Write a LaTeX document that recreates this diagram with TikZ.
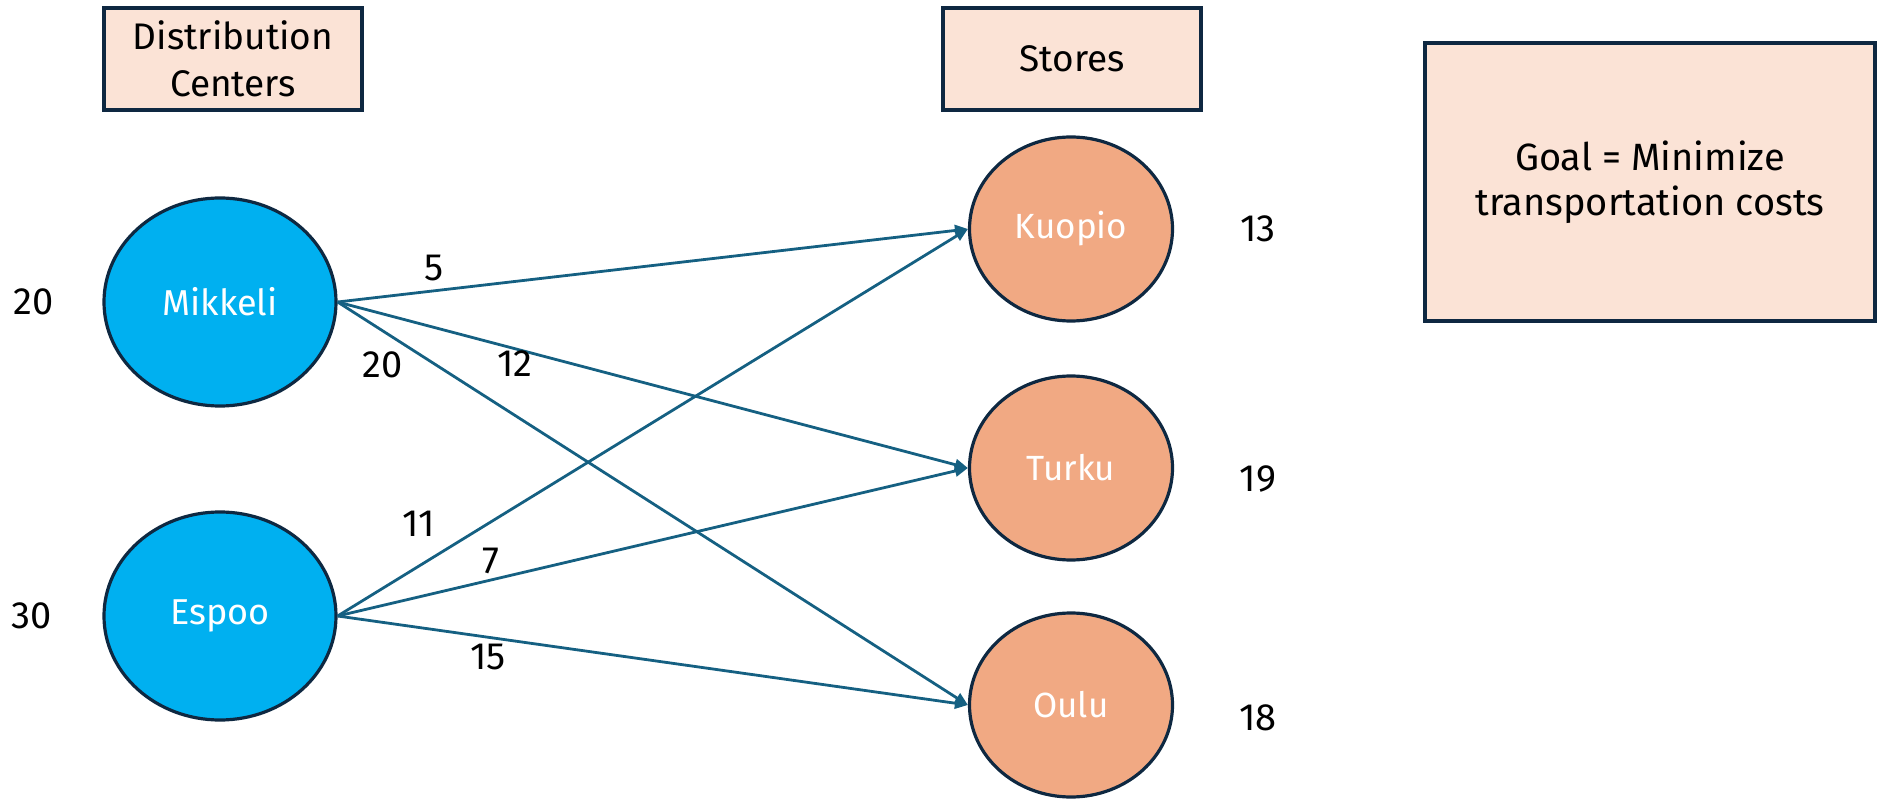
\documentclass[tikz,border=0pt]{standalone}
\usepackage{fontspec}
\setmainfont{Fira Sans}
\usetikzlibrary{shapes.geometric,arrows.meta}
\definecolor{dcblue}{HTML}{00B0F0}
\definecolor{storeor}{HTML}{F1A983}
\definecolor{boxfill}{HTML}{FBE3D6}
\definecolor{outl}{HTML}{0E2841}
\definecolor{arrowc}{HTML}{156082}
\begin{document}
\begin{tikzpicture}[x=1pt,y=-1pt,
  dcnode/.style={ellipse, draw=outl, line width=3.2pt, fill=dcblue, minimum width=232pt, minimum height=208pt, inner sep=0pt, text=white, font=\fontsize{36}{40}\selectfont},
  stnode/.style={ellipse, draw=outl, line width=3.2pt, fill=storeor, minimum width=203pt, minimum height=184pt, inner sep=0pt, text=white, font=\fontsize{35}{40}\selectfont},
  hdrbox/.style={rectangle, draw=outl, line width=3.2pt, fill=boxfill, minimum width=258pt, minimum height=102pt, inner sep=0pt, align=center, font=\fontsize{37}{47}\selectfont},
  goalbox/.style={rectangle, draw=outl, line width=3.2pt, fill=boxfill, minimum width=450pt, minimum height=278pt, inner sep=0pt, align=center, font=\fontsize{38}{45}\selectfont},
  num/.style={inner sep=0pt, font=\fontsize{38}{40}\selectfont},
  flow/.style={draw=arrowc, line width=2.8pt, -{Triangle[length=13pt,width=11pt]}}
]
\useasboundingbox (0,0) rectangle (1879,799);

\node[hdrbox] (dchdr) at (233,59) {Distribution\\Centers};
\node[hdrbox] (sthdr) at (1072,59) {Stores};
\node[goalbox] (goal) at (1650,182) {Goal = Minimize\\transportation costs};

\node[dcnode] (mik) at (220,302) {Mikkeli};
\node[dcnode] (esp) at (220,616) {Espoo};

\node[stnode] (kuo) at (1071,229) {Kuopio};
\node[stnode] (tur) at (1071,468) {Turku};
\node[stnode] (oul) at (1071,705) {Oulu};

\node[num] (smik) at (34,302) {20};
\node[num] (sesp) at (32,616) {30};
\node[num] (dkuo) at (1258,229) {13};
\node[num] (dtur) at (1258,479) {19};
\node[num] (doul) at (1258,718) {18};

\draw[flow] (mik.east) -- (kuo.west);
\draw[flow] (mik.east) -- (tur.west);
\draw[flow] (mik.east) -- (oul.west);
\draw[flow] (esp.east) -- (kuo.west);
\draw[flow] (esp.east) -- (tur.west);
\draw[flow] (esp.east) -- (oul.west);

\node[num] (c5) at (434,268) {5};
\node[num] (c20) at (383,365) {20};
\node[num] (c12) at (515,364) {12};
\node[num] (c11) at (419,524) {11};
\node[num] (c7) at (491,561) {7};
\node[num] (c15) at (488,657) {15};
\end{tikzpicture}
\end{document}
